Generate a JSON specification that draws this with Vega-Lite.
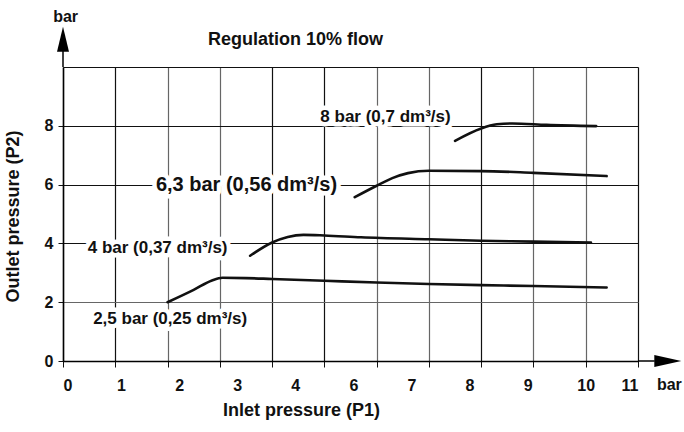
{
  "$schema": "https://vega.github.io/schema/vega-lite/v6.json",
  "width": 575,
  "height": 294,
  "autosize": {"type": "none"},
  "padding": {"left": 63, "top": 67, "right": 46, "bottom": 71},
  "config": {"view": {"stroke": null}, "font": "Liberation Sans"},
  "title": {
    "text": "Regulation 10% flow",
    "anchor": "start",
    "frame": "group",
    "dx": 145,
    "offset": -49,
    "baseline": "middle",
    "fontSize": 18,
    "fontWeight": "bold",
    "color": "#111"
  },
  "datasets": {
    "curves": [
      {"s": "2.5", "p1": 2.0, "p2": 2.0},
      {"s": "2.5", "p1": 2.5, "p2": 2.42},
      {"s": "2.5", "p1": 2.85, "p2": 2.74},
      {"s": "2.5", "p1": 3.05, "p2": 2.83},
      {"s": "2.5", "p1": 3.5, "p2": 2.82},
      {"s": "2.5", "p1": 4.0, "p2": 2.79},
      {"s": "2.5", "p1": 5.0, "p2": 2.73},
      {"s": "2.5", "p1": 6.0, "p2": 2.67},
      {"s": "2.5", "p1": 7.0, "p2": 2.62},
      {"s": "2.5", "p1": 8.0, "p2": 2.58},
      {"s": "2.5", "p1": 9.0, "p2": 2.55},
      {"s": "2.5", "p1": 10.4, "p2": 2.5},
      {"s": "4", "p1": 3.58, "p2": 3.58},
      {"s": "4", "p1": 4.0, "p2": 4.03},
      {"s": "4", "p1": 4.3, "p2": 4.22},
      {"s": "4", "p1": 4.6, "p2": 4.29},
      {"s": "4", "p1": 5.0, "p2": 4.27},
      {"s": "4", "p1": 5.7, "p2": 4.21},
      {"s": "4", "p1": 7.0, "p2": 4.14},
      {"s": "4", "p1": 8.0, "p2": 4.09},
      {"s": "4", "p1": 9.0, "p2": 4.06},
      {"s": "4", "p1": 10.1, "p2": 4.03},
      {"s": "6.3", "p1": 5.58, "p2": 5.57},
      {"s": "6.3", "p1": 6.0, "p2": 5.96},
      {"s": "6.3", "p1": 6.3, "p2": 6.22},
      {"s": "6.3", "p1": 6.6, "p2": 6.39},
      {"s": "6.3", "p1": 7.0, "p2": 6.47},
      {"s": "6.3", "p1": 8.0, "p2": 6.46},
      {"s": "6.3", "p1": 9.0, "p2": 6.4},
      {"s": "6.3", "p1": 10.4, "p2": 6.29},
      {"s": "8", "p1": 7.5, "p2": 7.49},
      {"s": "8", "p1": 8.0, "p2": 7.91},
      {"s": "8", "p1": 8.3, "p2": 8.05},
      {"s": "8", "p1": 8.6, "p2": 8.08},
      {"s": "8", "p1": 9.25, "p2": 8.03},
      {"s": "8", "p1": 10.2, "p2": 7.99}
    ],
    "labels": [
      {"s": "8", "x": 6.17, "y": 8.3, "t": "8 bar (0,7 dm³/s)"},
      {"s": "6.3", "x": 3.51, "y": 5.98, "t": "6,3 bar (0,56 dm³/s)"},
      {"s": "4", "x": 1.81, "y": 3.84, "t": "4 bar (0,37 dm³/s)"},
      {"s": "2.5", "x": 2.05, "y": 1.42, "t": "2,5 bar (0,25 dm³/s)"}
    ]
  },
  "layer": [
    {
      "data": {"name": "curves"},
      "mark": {"type": "line", "interpolate": "monotone", "color": "#111", "strokeWidth": 2.6, "strokeCap": "round"},
      "encoding": {
        "x": {
          "field": "p1", "type": "quantitative",
          "scale": {"domain": [0, 11], "nice": false, "zero": false},
          "axis": {
            "orient": "bottom",
            "values": [0, 1, 2, 3, 4, 5, 6, 7, 8, 9, 10, 11],
            "labels": false,
            "ticks": true, "tickSize": 6, "tickColor": "#111", "tickWidth": 1,
            "domain": true, "domainColor": "#000", "domainWidth": 1.5,
            "grid": true,
            "gridColor": {"condition": {"test": "indexof([0, 1, 4, 5, 8, 11], datum.value) >= 0", "value": "#111"}, "value": "#666"},
            "gridWidth": 1.2, "gridOpacity": 1,
            "title": "Inlet pressure (P1)",
            "titleX": 238, "titleY": 49,
            "titleBaseline": "middle", "titleAlign": "center",
            "titleFontSize": 18, "titleFontWeight": "bold", "titleColor": "#111"
          }
        },
        "y": {
          "field": "p2", "type": "quantitative",
          "scale": {"domain": [0, 10], "nice": false, "zero": false},
          "axis": {
            "values": [0, 1, 2, 3, 4, 5, 6, 7, 8, 9, 10],
            "labelExpr": "datum.value % 2 == 0 && datum.value < 10 ? datum.label : ''",
            "labelFontSize": 16, "labelFontWeight": "bold", "labelColor": "#111",
            "labelPadding": 5,
            "ticks": true, "tickSize": 5, "tickColor": "#111",
            "tickOpacity": {"condition": {"test": "datum.value % 2 == 0 && datum.value < 10", "value": 1}, "value": 0},
            "domain": true, "domainColor": "#000", "domainWidth": 1.5,
            "grid": true,
            "gridColor": {"condition": {"test": "indexof([0, 4, 6, 8, 10], datum.value) >= 0", "value": "#111"}, "value": "#666"},
            "gridWidth": 1.2, "gridOpacity": 1,
            "title": "Outlet pressure (P2)",
            "titleX": -50, "titleY": 149, "titleAngle": -90,
            "titleBaseline": "middle", "titleAlign": "center",
            "titleFontSize": 18, "titleFontWeight": "bold", "titleColor": "#111"
          }
        },
        "detail": {"field": "s"}
      }
    },
    {
      "data": {"name": "labels"},
      "mark": {"type": "text", "fontWeight": "bold", "stroke": "white", "strokeWidth": 9, "strokeJoin": "round", "fill": "white"},
      "encoding": {
        "x": {
          "field": "x", "type": "quantitative",
          "scale": {"domain": [0, 11], "nice": false, "zero": false},
          "axis": {
            "orient": "bottom",
            "values": [0, 1.111, 2.222, 3.333, 4.444, 5.556, 6.667, 7.778, 8.889, 10, 11],
            "labelExpr": "datum.value > 10.5 ? '11' : ['0','1','2','3','4','6','7','8','9','10'][round(datum.value * 0.9)]",
            "labelFontSize": 16, "labelFontWeight": "bold", "labelColor": "#111",
            "labelBaseline": "middle", "labelPadding": 24,
            "ticks": false, "domain": false, "grid": false, "title": null
          }
        },
        "y": {"field": "y", "type": "quantitative"},
        "text": {"field": "t"},
        "size": {"condition": {"test": "datum.s == '6.3'", "value": 20}, "value": 17}
      }
    },
    {
      "data": {"name": "labels"},
      "mark": {"type": "text", "fontWeight": "bold", "color": "#111"},
      "encoding": {
        "x": {"field": "x", "type": "quantitative", "axis": null},
        "y": {"field": "y", "type": "quantitative"},
        "text": {"field": "t"},
        "size": {"condition": {"test": "datum.s == '6.3'", "value": 20}, "value": 17}
      }
    },
    {
      "data": {"values": [
        {"x": 0, "x2": 0, "y": 10, "y2": 10.55},
        {"x": 11, "x2": 11.32, "y": 0, "y2": 0}
      ]},
      "mark": {"type": "rule", "color": "#000", "strokeWidth": 1.5},
      "encoding": {
        "x": {"field": "x", "type": "quantitative", "axis": null},
        "x2": {"field": "x2"},
        "y": {"field": "y", "type": "quantitative"},
        "y2": {"field": "y2"}
      }
    },
    {
      "data": {"values": [{"x": 0, "y": 10.94}]},
      "mark": {"type": "point", "shape": "M -0.48 1 L 0 -1 L 0.48 1 Z", "size": 625, "filled": true, "color": "#000", "opacity": 1},
      "encoding": {
        "x": {"field": "x", "type": "quantitative", "axis": null},
        "y": {"field": "y", "type": "quantitative"}
      }
    },
    {
      "data": {"values": [{"x": 11.57, "y": 0}]},
      "mark": {"type": "point", "shape": "M -1 -0.44 L 1 0 L -1 0.44 Z", "size": 729, "filled": true, "color": "#000", "opacity": 1},
      "encoding": {
        "x": {"field": "x", "type": "quantitative", "axis": null},
        "y": {"field": "y", "type": "quantitative"}
      }
    },
    {
      "data": {"values": [
        {"x": 0.05, "y": 11.7, "t": "bar"},
        {"x": 11.6, "y": -0.8, "t": "bar"}
      ]},
      "mark": {"type": "text", "fontWeight": "bold", "fontSize": 16, "color": "#111"},
      "encoding": {
        "x": {"field": "x", "type": "quantitative", "axis": null},
        "y": {"field": "y", "type": "quantitative"},
        "text": {"field": "t"}
      }
    }
  ],
  "resolve": {"axis": {"x": "independent"}}
}
